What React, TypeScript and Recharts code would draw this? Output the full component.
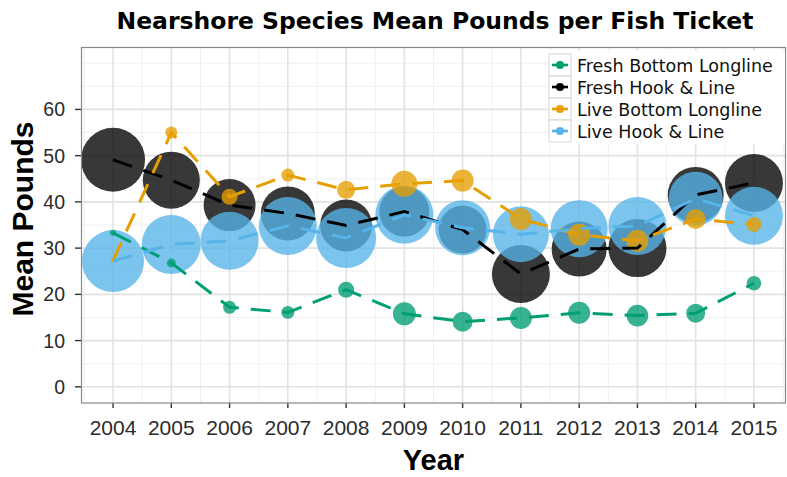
import { CartesianGrid, ComposedChart, Label, Line, Scatter, XAxis, YAxis, ZAxis } from "recharts";

const years = [2004, 2005, 2006, 2007, 2008, 2009, 2010, 2011, 2012, 2013, 2014, 2015];

// mean pounds per ticket
const freshBottomLongline = [33.3, 26.8, 17.2, 16.1, 21.0, 15.8, 14.1, 14.9, 16.0, 15.4, 15.9, 22.4];
const freshHookLine = [49.1, 44.7, 39.3, 37.5, 34.9, 37.9, 34.0, 24.4, 29.8, 30.0, 41.5, 44.1];
const liveBottomLongline = [27.3, 55.0, 41.1, 45.8, 42.6, 43.9, 44.6, 36.3, 32.9, 31.6, 36.3, 35.1];
const liveHookLine = [27.2, 30.8, 31.6, 34.8, 32.2, 37.2, 34.4, 33.0, 34.2, 34.8, 40.7, 37.0];

// bubble size (area units)
const freshBottomLonglineSize = [9, 20, 42, 42, 64, 132, 100, 121, 121, 117, 90, 53];
const freshHookLineSize = [1024, 812, 676, 729, 676, 625, 576, 841, 756, 841, 784, 841];
const liveBottomLonglineSize = [4, 36, 64, 42, 81, 169, 121, 121, 121, 121, 100, 56];
const liveHookLineSize = [961, 870, 841, 841, 900, 841, 756, 784, 812, 841, 729, 841];

const yTicks = [0, 10, 20, 30, 40, 50, 60];
const yMinor = [5, 15, 25, 35, 45, 55, 65, 70];
const xMinor = [2003.5, 2004.5, 2005.5, 2006.5, 2007.5, 2008.5, 2009.5, 2010.5, 2011.5, 2012.5, 2013.5, 2014.5, 2015.5];

interface Point {
  year: number;
  value: number;
  size: number;
}

function toPoints(values: number[], sizes: number[]): Point[] {
  return years.map((year, i) => ({ year, value: values[i], size: sizes[i] }));
}

const series = [
  { name: "Fresh Bottom Longline", color: "#009E73", points: toPoints(freshBottomLongline, freshBottomLonglineSize) },
  { name: "Fresh Hook & Line", color: "#000000", points: toPoints(freshHookLine, freshHookLineSize) },
  { name: "Live Bottom Longline", color: "#E69F00", points: toPoints(liveBottomLongline, liveBottomLonglineSize) },
  { name: "Live Hook & Line", color: "#56B4E9", points: toPoints(liveHookLine, liveHookLineSize) },
];

// stacking of the bubbles as seen in the picture
const bubbleOrder = [1, 3, 2, 0];

const sans = "'Liberation Sans', Arial, sans-serif";
const deja = "'DejaVu Sans', Verdana, sans-serif";

export default function App() {
  return (
    <div style={{ position: "absolute", left: 0, top: 0, width: 787, height: 477, background: "#fff", fontFamily: sans }}>
      <ComposedChart width={787} height={477} margin={{ top: 47, right: 1, bottom: 0, left: 0 }}>
        <CartesianGrid verticalValues={xMinor} horizontalValues={yMinor} stroke="#F0F0F0" strokeWidth={1} />
        <CartesianGrid verticalValues={years} horizontalValues={yTicks} stroke="#E2E2E2" strokeWidth={1.6} />
        <XAxis
          type="number"
          dataKey="year"
          domain={[2003.45, 2015.55]}
          ticks={years}
          interval={0}
          allowDataOverflow
          height={74}
          axisLine={false}
          tickSize={5}
          tickMargin={12}
          tickLine={{ stroke: "#333", strokeWidth: 1.4 }}
          tick={{ fontSize: 21, fill: "#2b2b2b", fontFamily: sans }}
        >
          <Label value="Year" position="center" dy={20} style={{ fontSize: 29, fontWeight: "bold", fill: "#000", fontFamily: sans }} />
        </XAxis>
        <YAxis
          type="number"
          dataKey="value"
          domain={[-3.5, 73.5]}
          ticks={yTicks}
          interval={0}
          allowDataOverflow
          width={81}
          axisLine={false}
          tickSize={6}
          tickMargin={10}
          tickLine={{ stroke: "#333", strokeWidth: 1.4 }}
          tick={{ fontSize: 19.5, fill: "#2b2b2b", fontFamily: sans }}
        >
          <Label value="Mean Pounds" position="center" angle={-90} dx={-18} dy={-6} style={{ fontSize: 30, fontWeight: "bold", fill: "#000", fontFamily: sans }} />
        </YAxis>
        <ZAxis type="number" dataKey="size" domain={[0, 1024]} range={[0, 3217]} />
        {bubbleOrder.map((i) => (
          <Scatter key={series[i].name} name={series[i].name} data={series[i].points} fill={series[i].color} fillOpacity={0.78} isAnimationActive={false} />
        ))}
        {series.map((s) => (
          <Line
            key={s.name}
            data={s.points}
            dataKey="value"
            stroke={s.color}
            strokeWidth={3}
            strokeDasharray="20 12"
            dot={false}
            activeDot={false}
            legendType="none"
            isAnimationActive={false}
            zIndex={700}
          />
        ))}
      </ComposedChart>
      <svg width={787} height={477} style={{ position: "absolute", left: 0, top: 0, pointerEvents: "none" }}>
        <text x={435} y={29} textAnchor="middle" fontFamily={deja} fontWeight="bold" fontSize={23.5} fill="#000">
          Nearshore Species Mean Pounds per Fish Ticket
        </text>
        <rect x={81.5} y={47.5} width={704} height={355.5} fill="none" stroke="#888" strokeWidth={1.2} />
        <rect x={548} y={51} width={237} height={93} fill="#fff" />
        {series.map((s, i) => {
          const cy = 65 + 22 * i;
          return (
            <g key={s.name}>
              <rect x={549} y={cy - 11} width={22} height={22} fill="#fff" stroke="#D5D5D5" strokeWidth={1} />
              <line x1={552} x2={568} y1={cy} y2={cy} stroke={s.color} strokeWidth={2.6} />
              <circle cx={560} cy={cy} r={4} fill={s.color} />
              <text x={577} y={cy + 6.5} fontFamily={deja} fontSize={17.5} fill="#111">
                {s.name}
              </text>
            </g>
          );
        })}
      </svg>
    </div>
  );
}
